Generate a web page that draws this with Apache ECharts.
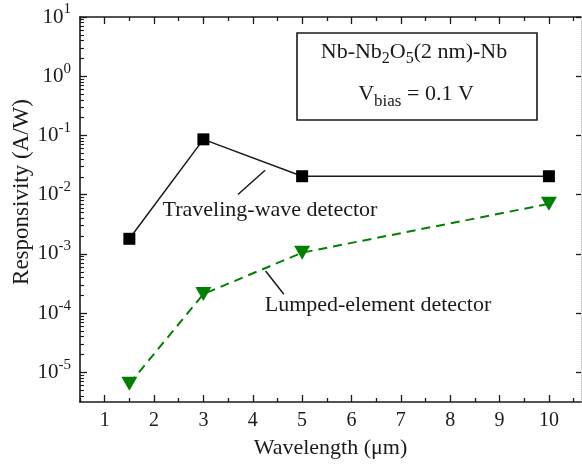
<!DOCTYPE html>
<html>
<head>
<meta charset="utf-8">
<script src="https://cdn.jsdelivr.net/npm/echarts@6/dist/echarts.min.js"></script>
<style>
html,body{margin:0;padding:0;background:#fff;}
#chart{width:582px;height:464px;}
</style>
</head>
<body>
<div id="chart"></div>
<script>
// ---- data ----
const wavelengths = [1.5, 3, 5, 10];
const travelingWave = [1.8e-3, 0.086, 0.0205, 0.0205];
const lumpedElement = [6.4e-6, 2.1e-4, 1.05e-3, 7.0e-3];

// ---- axis ticks / labels ----
const xMajorTicks = [1, 2, 3, 4, 5, 6, 7, 8, 9, 10];
const xMinorTicks = [0.5, 1.5, 2.5, 3.5, 4.5, 5.5, 6.5, 7.5, 8.5, 9.5, 10.5];
const yMajorTicks = [1e-5, 1e-4, 1e-3, 1e-2, 1e-1, 1, 10];
const yMinorMultipliers = [2, 3, 4, 5, 6, 7, 8, 9];
const yMinorDecades = [1e-6, 1e-5, 1e-4, 1e-3, 1e-2, 1e-1, 1];
const X_MIN = 0.5, X_MAX = 10.65;
const Y_MIN = Math.pow(10, -5.5), Y_MAX = 10;

const yMinorTicks = [];
yMinorDecades.forEach(d => yMinorMultipliers.forEach(m => {
  const v = m * d;
  if (v > Y_MIN && v < Y_MAX) yMinorTicks.push(v);
}));

const FONT = "'Liberation Serif', 'Times New Roman', serif";
const INK = '#1a1a1a';

const chart = echarts.init(document.getElementById('chart'), null, {renderer: 'canvas'});

const baseX = {
  type: 'value', min: X_MIN, max: X_MAX, splitLine: {show: false}
};
const baseY = {
  type: 'log', logBase: 10, min: Y_MIN, max: Y_MAX, splitLine: {show: false}
};

const option = {
  animation: false,
  backgroundColor: '#fff',
  grid: {left: 80, top: 17, right: 1, bottom: 61, containLabel: false},
  xAxis: [
    Object.assign({}, baseX, {
      position: 'bottom',
      axisLine: {show: true, lineStyle: {color: INK, width: 1.6}},
      axisTick: {show: true, inside: true, length: 7, customValues: xMajorTicks, lineStyle: {color: INK, width: 1.3}},
      axisLabel: {show: true, customValues: xMajorTicks, margin: 9, fontFamily: FONT, fontSize: 20, color: INK},
      name: 'Wavelength (μm)', nameLocation: 'middle', nameGap: 35,
      nameTextStyle: {fontFamily: FONT, fontSize: 22, color: INK}
    }),
    Object.assign({}, baseX, {
      position: 'bottom',
      axisLine: {show: false},
      axisTick: {show: true, inside: true, length: 4, customValues: xMinorTicks, lineStyle: {color: INK, width: 1.3}},
      axisLabel: {show: false}
    }),
    Object.assign({}, baseX, {
      position: 'top',
      axisLine: {show: true, lineStyle: {color: INK, width: 1.6}},
      axisTick: {show: true, inside: true, length: 7, customValues: xMajorTicks, lineStyle: {color: INK, width: 1.3}},
      axisLabel: {show: false}
    }),
    Object.assign({}, baseX, {
      position: 'top',
      axisLine: {show: false},
      axisTick: {show: true, inside: true, length: 4, customValues: xMinorTicks, lineStyle: {color: INK, width: 1.3}},
      axisLabel: {show: false}
    })
  ],
  yAxis: [
    Object.assign({}, baseY, {
      position: 'left',
      axisLine: {show: true, lineStyle: {color: INK, width: 1.6}},
      axisTick: {show: true, inside: true, length: 7, customValues: yMajorTicks, lineStyle: {color: INK, width: 1.3}},
      axisLabel: {
        show: true, customValues: yMajorTicks, margin: 9,
        formatter: function (v) {
          const e = Math.round(Math.log10(v));
          return '{b|10}{s|' + e + '}';
        },
        rich: {
          b: {fontFamily: FONT, fontSize: 21, color: INK, lineHeight: 30, verticalAlign: 'middle'},
          s: {fontFamily: FONT, fontSize: 15, color: INK, lineHeight: 30, verticalAlign: 'top', padding: [0, 0, 0, 0]}
        }
      }
    }),
    Object.assign({}, baseY, {
      position: 'left',
      axisLine: {show: false},
      axisTick: {show: true, inside: true, length: 4, customValues: yMinorTicks, lineStyle: {color: INK, width: 1.1}},
      axisLabel: {show: false}
    }),
    Object.assign({}, baseY, {
      position: 'right',
      axisLine: {show: true, lineStyle: {color: '#c8c8c8', width: 1, type: 'dotted'}},
      axisTick: {show: true, inside: true, length: 5, customValues: yMajorTicks, lineStyle: {color: INK, width: 1.3}},
      axisLabel: {show: false}
    })
  ],
  series: [
    {
      name: 'Traveling-wave detector',
      type: 'line',
      xAxisIndex: 0, yAxisIndex: 0,
      data: wavelengths.map((x, i) => [x, travelingWave[i]]),
      symbol: 'rect', symbolSize: 12,
      itemStyle: {color: '#000'},
      lineStyle: {color: INK, width: 1.5},
      z: 5,
      markLine: {
        silent: true, animation: false,
        symbol: ['none', 'arrow'], symbolSize: [0, 10],
        lineStyle: {color: INK, width: 1.5, type: 'solid'},
        label: {show: false},
        data: [
          [{coord: [3.70, 0.0101]}, {coord: [4.25, 0.0258]}],
          [{coord: [4.63, 2.09e-4]}, {coord: [4.26, 5.15e-4]}]
        ]
      }
    },
    {
      name: 'Lumped-element detector',
      type: 'line',
      xAxisIndex: 0, yAxisIndex: 0,
      data: wavelengths.map((x, i) => [x, lumpedElement[i]]),
      symbol: 'triangle', symbolRotate: 180, symbolSize: [16, 14],
      itemStyle: {color: '#008000'},
      lineStyle: {color: '#008000', width: 2, type: [9, 6]},
      z: 5
    }
  ],
  graphic: [
    {
      type: 'rect', shape: {x: 297, y: 33, width: 240, height: 87},
      style: {fill: 'none', stroke: INK, lineWidth: 1.6}, z: 10
    },
    {
      type: 'text', x: 414, y: 52, z: 11,
      style: {
        text: '{n|Nb-Nb}{sub|2}{n|O}{sub|5}{n|(2 nm)-Nb}',
        verticalAlign: 'middle', align: 'center',
        rich: {
          n: {fontFamily: FONT, fontSize: 22, fill: INK, lineHeight: 30, verticalAlign: 'middle'},
          sub: {fontFamily: FONT, fontSize: 16, fill: INK, lineHeight: 30, verticalAlign: 'bottom'}
        }
      }
    },
    {
      type: 'text', x: 416, y: 94, z: 11,
      style: {
        text: '{n|V}{sub|bias}{n| = 0.1 V}',
        verticalAlign: 'middle', align: 'center',
        rich: {
          n: {fontFamily: FONT, fontSize: 22, fill: INK, lineHeight: 32, verticalAlign: 'middle'},
          sub: {fontFamily: FONT, fontSize: 17, fill: INK, lineHeight: 32, verticalAlign: 'bottom'}
        }
      }
    },
    {
      type: 'text', x: 270, y: 210, z: 11,
      style: {text: 'Traveling-wave detector', fontFamily: FONT, fontSize: 22, fill: INK, align: 'center', verticalAlign: 'middle'}
    },
    {
      type: 'text', x: 378, y: 305, z: 11,
      style: {text: 'Lumped-element detector', fontFamily: FONT, fontSize: 22, fill: INK, align: 'center', verticalAlign: 'middle'}
    },
    {
      type: 'text', x: 22, y: 192, rotation: Math.PI / 2, z: 11,
      style: {text: 'Responsivity (A/W)', fontFamily: FONT, fontSize: 23, fill: INK, align: 'center', verticalAlign: 'middle'}
    }
  ]
};

chart.setOption(option);
</script>
</body>
</html>
